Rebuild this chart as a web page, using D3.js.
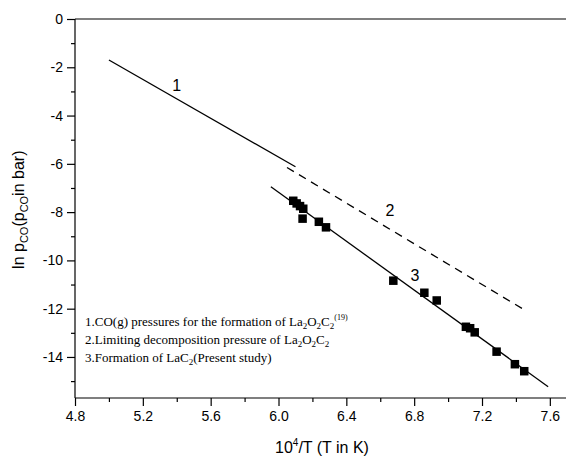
<!DOCTYPE html>
<html><head><meta charset="utf-8">
<script src="https://cdn.jsdelivr.net/npm/d3@7"></script>
<style>body{margin:0;background:#fff}svg{display:block}</style>
</head><body>
<svg id="c" width="566" height="458"></svg>
<script>
const xMajorTicks = [4.8, 5.2, 5.6, 6.0, 6.4, 6.8, 7.2, 7.6];
const xMinorTicks = [5.0, 5.4, 5.8, 6.2, 6.6, 7.0, 7.4];
const yMajorTicks = [0, -2, -4, -6, -8, -10, -12, -14];
const yMinorTicks = [-1, -3, -5, -7, -9, -11, -13, -15];
const line1 = [[5.0, -1.7], [6.1, -6.12]];
const line2 = [[6.05, -6.15], [7.45, -12.05]];
const line3 = [[5.955, -6.95], [7.59, -15.23]];
const pointsX = [6.087, 6.107, 6.127, 6.146, 6.142, 6.238, 6.28, 6.677, 6.86, 6.933, 7.105, 7.13, 7.157, 7.286, 7.394, 7.449];
const pointsY = [-7.53, -7.64, -7.75, -7.86, -8.27, -8.40, -8.63, -10.84, -11.34, -11.66, -12.75, -12.81, -12.98, -13.78, -14.30, -14.59];
const lineLabels = [["1", 5.4, -2.8], ["2", 6.657, -7.98], ["3", 6.805, -10.67]];

const svg = d3.select("#c");
const x = d3.scaleLinear().domain([4.8, 7.7]).range([75, 566.8]);
const y = d3.scaleLinear().domain([-15.7, 0]).range([398, 19]);
const sans = "Arial, 'Liberation Sans', Helvetica, sans-serif";

svg.append("line").attr("x1", x(4.8)).attr("x2", 566).attr("y1", y(0)).attr("y2", y(0)).attr("stroke", "#000").attr("stroke-width", 1.2);

const xAxis = svg.append("g").attr("transform", `translate(0,${y(-15.7)})`)
  .call(d3.axisBottom(x).tickValues(xMajorTicks).tickSize(8).tickFormat(d3.format(".1f")));
svg.append("g").attr("transform", `translate(0,${y(-15.7)})`)
  .call(d3.axisBottom(x).tickValues(xMinorTicks).tickSize(4).tickFormat(""))
  .select(".domain").remove();
const yAxis = svg.append("g").attr("transform", `translate(${x(4.8)},0)`)
  .call(d3.axisLeft(y).tickValues(yMajorTicks).tickSize(8).tickFormat(d3.format("d")));
svg.append("g").attr("transform", `translate(${x(4.8)},0)`)
  .call(d3.axisLeft(y).tickValues(yMinorTicks).tickSize(4).tickFormat(""))
  .select(".domain").remove();
svg.selectAll(".domain").attr("stroke-width", 1.2);
svg.selectAll(".tick line").attr("stroke-width", 1.2);
xAxis.selectAll("text").attr("font-family", sans).attr("font-size", 14).attr("dy", "0.85em");
yAxis.selectAll("text").attr("font-family", sans).attr("font-size", 14).attr("dx", "-1");
xAxis.select(".domain").attr("d", `M${x(4.8)},0H566`);
yAxis.select(".domain").attr("d", `M0,${y(-15.7)}V${y(0)}`);
yAxis.selectAll("text").text(d => String(d).replace("−", "-"));

const ln = d3.line().x(d => x(d[0])).y(d => y(d[1]));
svg.append("path").attr("d", ln(line1)).attr("fill", "none").attr("stroke", "#000").attr("stroke-width", 1.3);
svg.append("path").attr("d", ln(line2)).attr("fill", "none").attr("stroke", "#000").attr("stroke-width", 1.3).attr("stroke-dasharray", "8,6");
svg.append("path").attr("d", ln(line3)).attr("fill", "none").attr("stroke", "#000").attr("stroke-width", 1.3);

const s = 8.5;
svg.selectAll("rect.pt").data(pointsX.map((v, i) => [v, pointsY[i]])).join("rect")
  .attr("class", "pt").attr("x", d => x(d[0]) - s / 2).attr("y", d => y(d[1]) - s / 2)
  .attr("width", s).attr("height", s).attr("fill", "#000");

svg.selectAll("text.ll").data(lineLabels).join("text").attr("class", "ll")
  .attr("x", d => x(d[1])).attr("y", d => y(d[2])).attr("text-anchor", "middle").attr("dominant-baseline", "middle")
  .attr("font-family", sans).attr("font-size", 16).text(d => d[0]);

const xt = svg.append("text").attr("x", 322).attr("y", 453).attr("text-anchor", "middle")
  .attr("font-family", sans).attr("font-size", 16);
xt.append("tspan").text("10");
xt.append("tspan").attr("font-size", 10).attr("dy", -7).text("4");
xt.append("tspan").attr("dy", 7).text("/T (T in K)");

const yt = svg.append("text").attr("transform", `translate(24,${y(-7.9)}) rotate(-90)`).attr("text-anchor", "middle")
  .attr("font-family", sans).attr("font-size", 16);
yt.append("tspan").text("ln p");
yt.append("tspan").attr("font-size", 11).attr("dy", 4).text("CO");
yt.append("tspan").attr("dy", -4).text("(p");
yt.append("tspan").attr("font-size", 11).attr("dy", 4).text("CO");
yt.append("tspan").attr("dy", -4).text("in bar)");

const serif = "'Times New Roman', 'Liberation Serif', serif";
function sub(t, parts) {
  parts.forEach(p => {
    if (p[1] === "sub") t.append("tspan").attr("font-size", 9).attr("dy", 3).text(p[0]);
    else if (p[1] === "sup") t.append("tspan").attr("font-size", 8).attr("dy", -9).text(p[0]);
    else t.append("tspan").attr("dy", p[2] || 0).text(p[0]);
  });
}
const legendLines = [
  [["1.CO(g) pressures for the formation of La"], ["2", "sub"], ["O", "", -3], ["2", "sub"], ["C", "", -3], ["2", "sub"], ["(19)", "sup"]],
  [["2.Limiting decomposition pressure of La"], ["2", "sub"], ["O", "", -3], ["2", "sub"], ["C", "", -3], ["2", "sub"]],
  [["3.Formation of LaC"], ["2", "sub"], ["(Present study)", "", -3]]
];
const legY = [326, 344, 362];
legendLines.forEach((parts, i) => {
  const t = svg.append("text").attr("x", 85).attr("y", legY[i]).attr("font-family", serif).attr("font-size", 13);
  sub(t, parts);
});
</script>
</body></html>
